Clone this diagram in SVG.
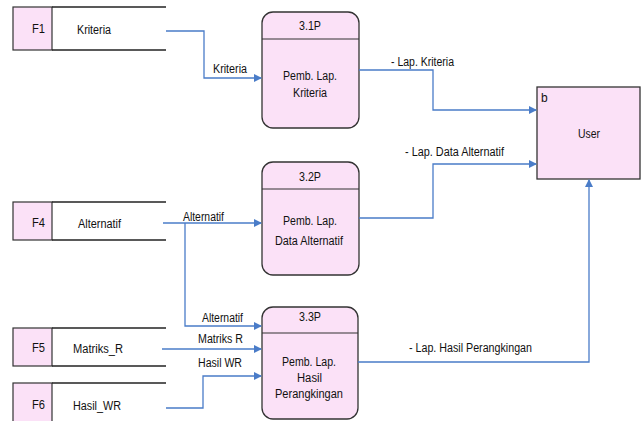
<svg xmlns="http://www.w3.org/2000/svg" width="643" height="421" viewBox="0 0 643 421">
  <defs>
    <marker id="arr" markerWidth="8" markerHeight="8" refX="7" refY="4" orient="auto" markerUnits="userSpaceOnUse">
      <path d="M0,0 L8,4 L0,8 z" fill="#4A7CC8"/>
    </marker>
    <style>
      text { font-family: "Liberation Sans", Arial, sans-serif; font-size: 12px; fill: #111; }
      .id { fill: #FBE1F7; stroke: #333; stroke-width: 1.2; }
      .edge { stroke: #222; stroke-width: 1.6; }
      .proc { fill: #FBE1F7; stroke: #333; stroke-width: 1.3; }
      .div { stroke: #333; stroke-width: 1.2; }
      .conn { fill: none; stroke: #4A7CC8; stroke-width: 1.3; }
    </style>
  </defs>
  <rect width="643" height="421" fill="#fff"/>

  <!-- data stores -->
  <g id="F1">
    <rect class="id" x="13" y="7" width="39" height="43"/>
    <line class="edge" x1="52" y1="7" x2="166" y2="7"/>
    <line class="edge" x1="52" y1="50" x2="166" y2="50"/>
    <text x="32" y="33" textLength="13" lengthAdjust="spacingAndGlyphs">F1</text>
    <text x="77" y="34" textLength="34" lengthAdjust="spacingAndGlyphs">Kriteria</text>
  </g>
  <g id="F4">
    <rect class="id" x="13" y="202" width="39" height="38"/>
    <line class="edge" x1="52" y1="202" x2="166" y2="202"/>
    <line class="edge" x1="52" y1="240" x2="166" y2="240"/>
    <text x="32" y="227" textLength="13" lengthAdjust="spacingAndGlyphs">F4</text>
    <text x="78" y="228" textLength="43" lengthAdjust="spacingAndGlyphs">Alternatif</text>
  </g>
  <g id="F5">
    <rect class="id" x="13" y="328" width="39" height="38"/>
    <line class="edge" x1="52" y1="328" x2="166" y2="328"/>
    <line class="edge" x1="52" y1="366" x2="166" y2="366"/>
    <text x="32" y="352" textLength="13" lengthAdjust="spacingAndGlyphs">F5</text>
    <text x="73" y="353" textLength="50" lengthAdjust="spacingAndGlyphs">Matriks_R</text>
  </g>
  <g id="F6">
    <rect class="id" x="13" y="383" width="39" height="45"/>
    <line class="edge" x1="52" y1="383" x2="166" y2="383"/>
    <text x="32" y="409" textLength="13" lengthAdjust="spacingAndGlyphs">F6</text>
    <text x="73" y="410" textLength="48" lengthAdjust="spacingAndGlyphs">Hasil_WR</text>
  </g>

  <!-- processes -->
  <g id="P31">
    <rect class="proc" x="262" y="12" width="97" height="116" rx="11"/>
    <line class="div" x1="262" y1="39" x2="359" y2="39"/>
    <text x="299" y="30" textLength="22" lengthAdjust="spacingAndGlyphs">3.1P</text>
    <text x="283" y="80" textLength="54" lengthAdjust="spacingAndGlyphs">Pemb. Lap.</text>
    <text x="293" y="97" textLength="34" lengthAdjust="spacingAndGlyphs">Kriteria</text>
  </g>
  <g id="P32">
    <rect class="proc" x="262" y="162" width="97" height="113" rx="11"/>
    <line class="div" x1="262" y1="189" x2="359" y2="189"/>
    <text x="299" y="181" textLength="22" lengthAdjust="spacingAndGlyphs">3.2P</text>
    <text x="283" y="225" textLength="54" lengthAdjust="spacingAndGlyphs">Pemb. Lap.</text>
    <text x="275" y="245" textLength="68" lengthAdjust="spacingAndGlyphs">Data Alternatif</text>
  </g>
  <g id="P33">
    <rect class="proc" x="262" y="307" width="96" height="112" rx="11"/>
    <line class="div" x1="262" y1="333" x2="358" y2="333"/>
    <text x="299" y="321" textLength="22" lengthAdjust="spacingAndGlyphs">3.3P</text>
    <text x="282" y="366" textLength="54" lengthAdjust="spacingAndGlyphs">Pemb. Lap.</text>
    <text x="297" y="382" textLength="25" lengthAdjust="spacingAndGlyphs">Hasil</text>
    <text x="275" y="398" textLength="68" lengthAdjust="spacingAndGlyphs">Perangkingan</text>
  </g>

  <!-- external entity -->
  <g id="User">
    <rect class="proc" x="537" y="87" width="103" height="92"/>
    <text x="541" y="102">b</text>
    <text x="578" y="138" textLength="22" lengthAdjust="spacingAndGlyphs">User</text>
  </g>

  <!-- data flows -->
  <g id="connectors">
    <polyline class="conn" points="166,31 204,31 204,78 261,78" marker-end="url(#arr)"/>
    <polyline class="conn" points="163,223 261,223" marker-end="url(#arr)"/>
    <polyline class="conn" points="185,223 185,326 261,326" marker-end="url(#arr)"/>
    <polyline class="conn" points="162,349 261,349" marker-end="url(#arr)"/>
    <polyline class="conn" points="166,408 203,408 203,376 261,376" marker-end="url(#arr)"/>
    <polyline class="conn" points="359,70 433,70 433,110 536,110" marker-end="url(#arr)"/>
    <polyline class="conn" points="359,218 433,218 433,164 536,164" marker-end="url(#arr)"/>
    <polyline class="conn" points="358,362 589,362 589,180" marker-end="url(#arr)"/>

    <text x="213" y="73" textLength="34" lengthAdjust="spacingAndGlyphs">Kriteria</text>
    <text x="183" y="221" textLength="41" lengthAdjust="spacingAndGlyphs">Alternatif</text>
    <text x="202" y="322" textLength="41" lengthAdjust="spacingAndGlyphs">Alternatif</text>
    <text x="198" y="343" textLength="45" lengthAdjust="spacingAndGlyphs">Matriks R</text>
    <text x="198" y="367" textLength="44" lengthAdjust="spacingAndGlyphs">Hasil WR</text>
    <text x="391" y="66" textLength="63" lengthAdjust="spacingAndGlyphs">- Lap. Kriteria</text>
    <text x="405" y="156" textLength="99" lengthAdjust="spacingAndGlyphs">- Lap. Data Alternatif</text>
    <text x="409" y="352" textLength="123" lengthAdjust="spacingAndGlyphs">- Lap. Hasil Perangkingan</text>
  </g>
</svg>
